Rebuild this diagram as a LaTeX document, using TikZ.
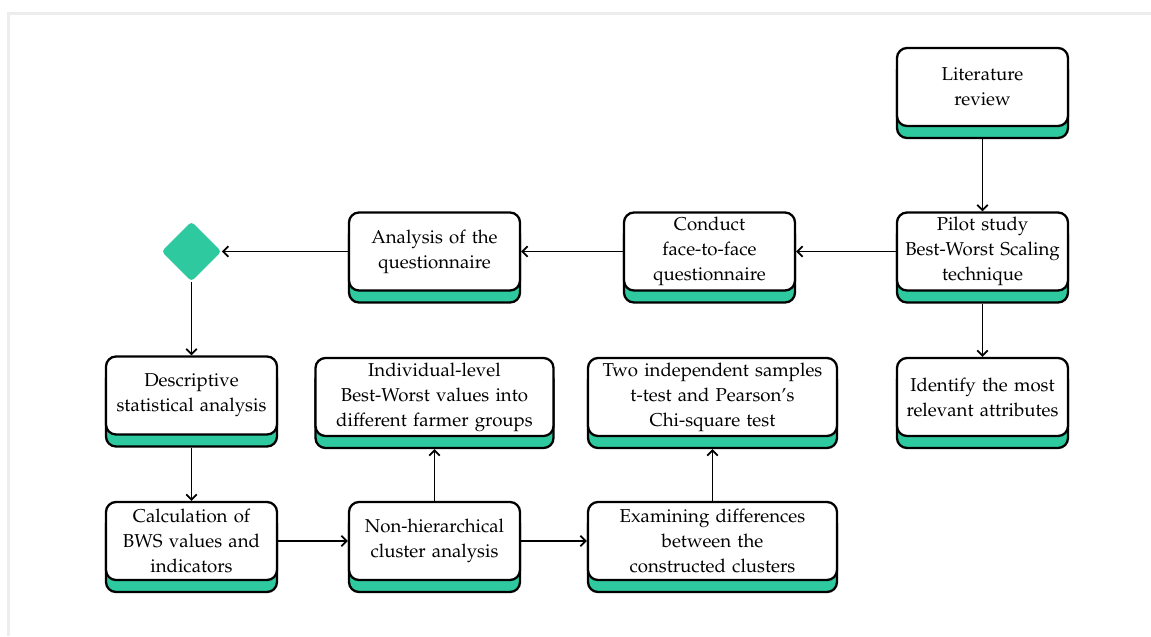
\documentclass[tikz,border=0pt]{standalone}
\usepackage[T1]{fontenc}
\usepackage{mathpazo}
\usepackage{tikz}
\usetikzlibrary{arrows.meta,shadows,shapes.geometric}
\definecolor{mint}{RGB}{47,201,160}

\begin{document}
\begin{tikzpicture}[
  stage/.style={draw, line width=1.3pt, rounded corners=0.2cm, fill=white, align=center,
    text width=#1, minimum height=1.56cm, inner sep=0pt, font=\fontsize{10.6}{14.2}\selectfont,
    copy shadow={fill=mint, draw=black, line width=1.3pt, shadow xshift=0pt, shadow yshift=-0.24cm}},
  stage/.default=3.42cm,
  choice/.style={diamond, aspect=1, fill=mint, minimum size=1.2cm, inner sep=0pt, rounded corners=2pt},
  flow/.style={-{Straight Barb[length=3pt,width=6pt]}, line width=1pt}
 ]
 \useasboundingbox (0,0) rectangle (23.02,-12.72);
 \draw[black!7, line width=0.06cm] (0.16,-12.72) |- (23.02,-0.26);
 \draw (19.65,-1.74) node[stage] (lit) {Literature\\review};
 \draw (19.65,-5.03) node[stage] (pilot) {Pilot study\\Best-Worst Scaling\\technique};
 \draw (14.19,-5.03) node[stage] (conduct) {Conduct\\face-to-face\\questionnaire};
 \draw (8.69,-5.03) node[stage] (quest) {Analysis of the\\questionnaire};
 \draw (3.83,-5.03) node[choice] (split) {};
 \draw (3.83,-7.91) node[stage] (descr) {Descriptive\\statistical analysis};
 \draw (8.69,-7.94) node[stage=4.76cm] (indiv) {Individual-level\\Best-Worst values into\\different farmer groups};
 \draw (14.25,-7.94) node[stage=4.98cm] (ttest) {Two independent samples\\t-test and Pearson's\\Chi-square test};
 \draw (19.65,-7.94) node[stage] (ident) {Identify the most\\relevant attributes};
 \draw (3.83,-10.82) node[stage] (calc) {Calculation of\\BWS values and\\indicators};
 \draw (8.69,-10.82) node[stage] (cluster) {Non-hierarchical\\cluster analysis};
 \draw (14.25,-10.82) node[stage=4.98cm] (examine) {Examining differences\\between the\\constructed clusters};
     \path[flow] ([yshift=-0.24cm]lit.south) edge (pilot);
     \path[flow] (pilot) edge (conduct);
     \path[flow] (conduct) edge (quest);
     \path[flow] (quest) edge (split);
     \path[flow] (split) edge (descr);
     \path[flow] ([yshift=-0.24cm]pilot.south) edge (ident);
     \path[flow] ([yshift=-0.24cm]descr.south) edge (calc);
     \path[flow] (calc) edge (cluster);
     \path[flow] (cluster) edge (examine);
     \path[flow] (cluster.north) edge ([yshift=-0.24cm]indiv.south);
     \path[flow] (examine.north) edge ([yshift=-0.24cm]ttest.south);
\end{tikzpicture}
\end{document}
